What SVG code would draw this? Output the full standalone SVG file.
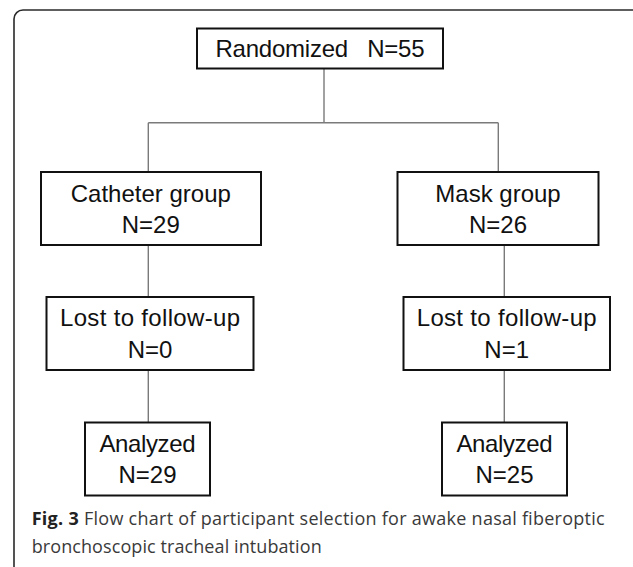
<svg xmlns="http://www.w3.org/2000/svg" width="633" height="567" viewBox="0 0 633 567">
<style>
.box{fill:#fff;stroke:#111;stroke-width:2}
.lbl{font-family:"Liberation Sans",Arial,sans-serif;font-size:24px;fill:#111;text-anchor:middle}
.conn{fill:none;stroke:#7a7a7a;stroke-width:1.4}
.frame{fill:none;stroke:#2a2a2a;stroke-width:1.6}
.cap{font-family:"Open Sans","Liberation Sans",sans-serif;font-size:18px;fill:#3a3a3a}
</style>
<rect width="633" height="567" fill="#fff"/>
<path class="frame" d="M14 568 V19 A9 9 0 0 1 23 10 H634"/>
<g id="connectors">
<path class="conn" d="M324 68.5 V122.7 M148.3 122.7 H498.3 M148.3 122.7 V172 M498.3 122.7 V172 M148.3 245 V297 M148.3 370 V422.5 M504.3 245 V297 M504.3 370 V422.5"/>
</g>
<g id="randomized">
<rect class="box" x="197" y="28.5" width="246" height="40"/>
<text class="lbl" x="320" y="57" style="white-space:pre" textLength="209">Randomized   N=55</text>
</g>
<g id="catheter">
<rect class="box" x="41" y="172" width="220" height="73"/>
<text class="lbl" x="150.8" y="201.5">Catheter group</text>
<text class="lbl" x="150.8" y="233">N=29</text>
</g>
<g id="mask">
<rect class="box" x="397.5" y="172" width="201" height="73"/>
<text class="lbl" x="498" y="201.5">Mask group</text>
<text class="lbl" x="498" y="233">N=26</text>
</g>
<g id="lost-catheter">
<rect class="box" x="46.5" y="297" width="207" height="73"/>
<text class="lbl" x="150" y="326" textLength="180">Lost to follow-up</text>
<text class="lbl" x="150" y="357.7">N=0</text>
</g>
<g id="lost-mask">
<rect class="box" x="403.5" y="297" width="206.5" height="73"/>
<text class="lbl" x="506.7" y="326" textLength="180">Lost to follow-up</text>
<text class="lbl" x="506.7" y="357.7">N=1</text>
</g>
<g id="analyzed-catheter">
<rect class="box" x="85" y="422.5" width="125" height="73"/>
<text class="lbl" x="147.5" y="452" textLength="96">Analyzed</text>
<text class="lbl" x="147.5" y="482.5">N=29</text>
</g>
<g id="analyzed-mask">
<rect class="box" x="442" y="422.5" width="125" height="73"/>
<text class="lbl" x="504.5" y="452" textLength="96">Analyzed</text>
<text class="lbl" x="504.5" y="482.5">N=25</text>
</g>
<g id="caption">
<text class="cap" x="31.7" y="525" textLength="573"><tspan font-weight="bold" fill="#222">Fig. 3</tspan> Flow chart of participant selection for awake nasal fiberoptic</text>
<text class="cap" x="31.7" y="553" textLength="290">bronchoscopic tracheal intubation</text>
</g>
</svg>
